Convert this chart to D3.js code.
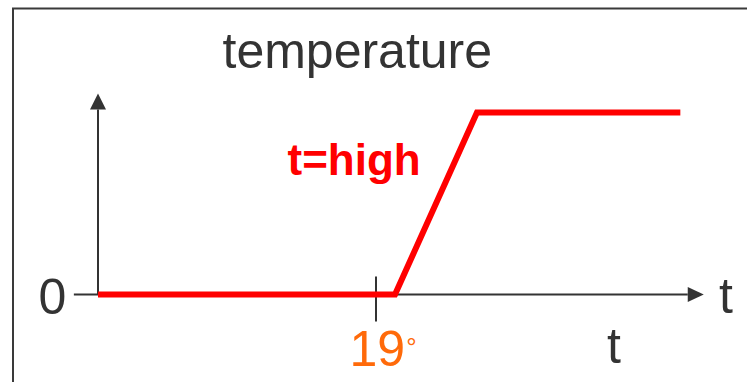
<!DOCTYPE html>
<html>
<head>
<meta charset="utf-8">
<script src="https://cdn.jsdelivr.net/npm/d3@7"></script>
<style>
  html, body { margin: 0; padding: 0; background: #fff; }
  svg { display: block; font-family: "Liberation Sans", Arial, sans-serif; }
</style>
</head>
<body>
<svg id="chart" width="747" height="382"></svg>
<script>
// Temperature response: flat at 0 until just past 19°, then ramps up to "high".
const temps = [0, 20.3, 25.9, 39.8];      // x values (degrees)
const levels = [0, 0, 1, 1];              // response level (0 = off, 1 = high)
const tickValues = [19];
const tickLabels = ["19"];
const axisRangeX = [-1.65, 41.4];         // x-axis extent incl. arrow tip
const axisRangeY = [0, 1.105];            // y-axis extent incl. arrow tip

const svg = d3.select("#chart");
const W = 747, H = 382;

const x = d3.scaleLinear().domain([0, 19]).range([98, 376]);
const y = d3.scaleLinear().domain([0, 1]).range([294.5, 112.5]);

const axisColor = "#333333";
const red = "#ff0000";
const orange = "#ff6a0a";

// frame (open to the right and bottom)
svg.append("rect")
  .attr("x", 13).attr("y", 8.5)
  .attr("width", W).attr("height", H)
  .attr("fill", "none")
  .attr("stroke", "#3a3a3a")
  .attr("stroke-width", 2);

// title
svg.append("text")
  .attr("x", 222.5).attr("y", 68)
  .attr("font-size", 50)
  .attr("fill", "#333333")
  .text("temperature");

// y axis with arrow
const yTip = y(axisRangeY[1]);
const arrowLen = 16, arrowHalf = 8;
svg.append("line")
  .attr("x1", x(0)).attr("x2", x(0))
  .attr("y1", y(0)).attr("y2", yTip + arrowLen)
  .attr("stroke", axisColor).attr("stroke-width", 2);
svg.append("path")
  .attr("d", `M${x(0)},${yTip} L${x(0) - arrowHalf},${yTip + arrowLen} L${x(0) + arrowHalf},${yTip + arrowLen} Z`)
  .attr("fill", axisColor);

// x axis with arrow
const xTip = x(axisRangeX[1]);
svg.append("line")
  .attr("x1", x(axisRangeX[0])).attr("x2", xTip - arrowLen)
  .attr("y1", y(0)).attr("y2", y(0))
  .attr("stroke", axisColor).attr("stroke-width", 2);
svg.append("path")
  .attr("d", `M${xTip},${y(0)} L${xTip - arrowLen},${y(0) - 7.5} L${xTip - arrowLen},${y(0) + 7.5} Z`)
  .attr("fill", axisColor);

// ticks
svg.selectAll("line.tick")
  .data(tickValues)
  .join("line")
  .attr("class", "tick")
  .attr("x1", d => x(d)).attr("x2", d => x(d))
  .attr("y1", y(0) - 18).attr("y2", y(0) + 27)
  .attr("stroke", axisColor).attr("stroke-width", 2);

// tick labels with degree sign
const tl = svg.selectAll("text.ticklabel")
  .data(tickValues)
  .join("text")
  .attr("class", "ticklabel")
  .attr("x", d => x(d) - 26.5)
  .attr("y", 366)
  .attr("font-size", 50)
  .attr("fill", orange);
tl.append("tspan").text((d, i) => tickLabels[i]);
tl.append("tspan")
  .attr("font-size", 26)
  .attr("dy", -10)
  .attr("dx", 1)
  .text("°");

// origin label
svg.append("text")
  .attr("x", 38.5).attr("y", 313.5)
  .attr("font-size", 50)
  .attr("fill", "#333333")
  .text("0");

// axis labels
svg.append("text")
  .attr("x", 719).attr("y", 312.5)
  .attr("font-size", 50)
  .attr("fill", "#333333")
  .text("t");
svg.append("text")
  .attr("x", 607).attr("y", 363)
  .attr("font-size", 50)
  .attr("fill", "#333333")
  .text("t");

// response curve
const line = d3.line()
  .x((d, i) => x(temps[i]))
  .y((d, i) => y(levels[i]));
svg.append("path")
  .datum(temps)
  .attr("d", line)
  .attr("fill", "none")
  .attr("stroke", red)
  .attr("stroke-width", 6)
  .attr("stroke-linejoin", "miter");

// curve label
svg.append("text")
  .attr("x", 287.5).attr("y", 175)
  .attr("font-size", 44)
  .attr("font-weight", "bold")
  .attr("fill", red)
  .text("t=high");
</script>
</body>
</html>
